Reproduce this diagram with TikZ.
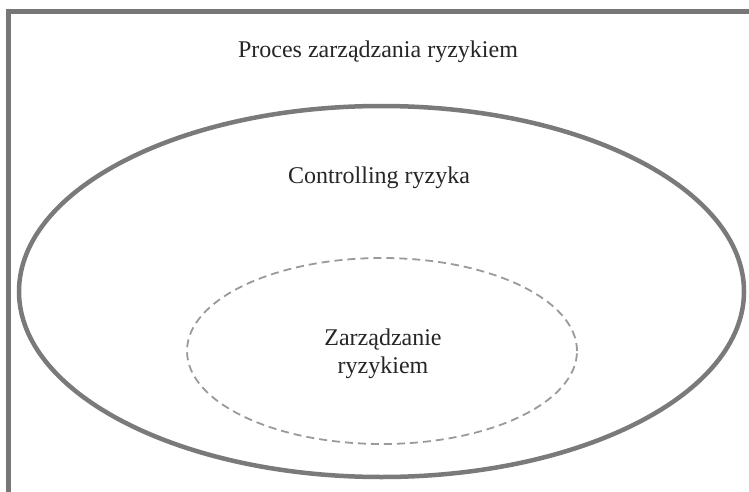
\documentclass[tikz,border=0pt]{standalone}
\usepackage{fontspec}
\setmainfont{Liberation Serif}
\usetikzlibrary{shapes.geometric}
\definecolor{framegray}{HTML}{777777}
\definecolor{ellgray}{HTML}{7A7A7A}
\definecolor{dashgray}{HTML}{9A9A9A}
\begin{document}
\begin{tikzpicture}[x=1pt,y=-1pt,
  lbl/.style={font=\fontsize{24}{28}\selectfont, text=black!85, inner sep=0pt, anchor=base, align=center},
  framestyle/.style={draw=framegray, line width=5pt},
  outerell/.style={draw=ellgray, line width=4.5pt},
  innerell/.style={draw=dashgray, line width=1.8pt, dash pattern=on 8pt off 5pt}]
\useasboundingbox (0,0) rectangle (749,492);
\fill[white] (0,0) rectangle (749,492);
\coordinate (fbl) at (8.5,492);
\coordinate (ftl) at (8.5,11.5);
\coordinate (ftr) at (749,11.5);
\draw[framestyle] (fbl) -- (ftl) -- (ftr);
\node[outerell, ellipse, minimum width=725pt, minimum height=371pt, inner sep=0pt] (outer) at (381.5,291.5) {};
\node[innerell, ellipse, minimum width=390pt, minimum height=186pt, inner sep=0pt] (inner) at (382,351) {};
\node[lbl] (proces) at (378,58) {Proces zarządzania ryzykiem};
\node[lbl] (ctrl) at (379,183) {Controlling ryzyka};
\node[lbl] (zarz) at (383,345) {Zarządzanie};
\node[lbl] (ryz) at (383,373) {ryzykiem};
\end{tikzpicture}
\end{document}
